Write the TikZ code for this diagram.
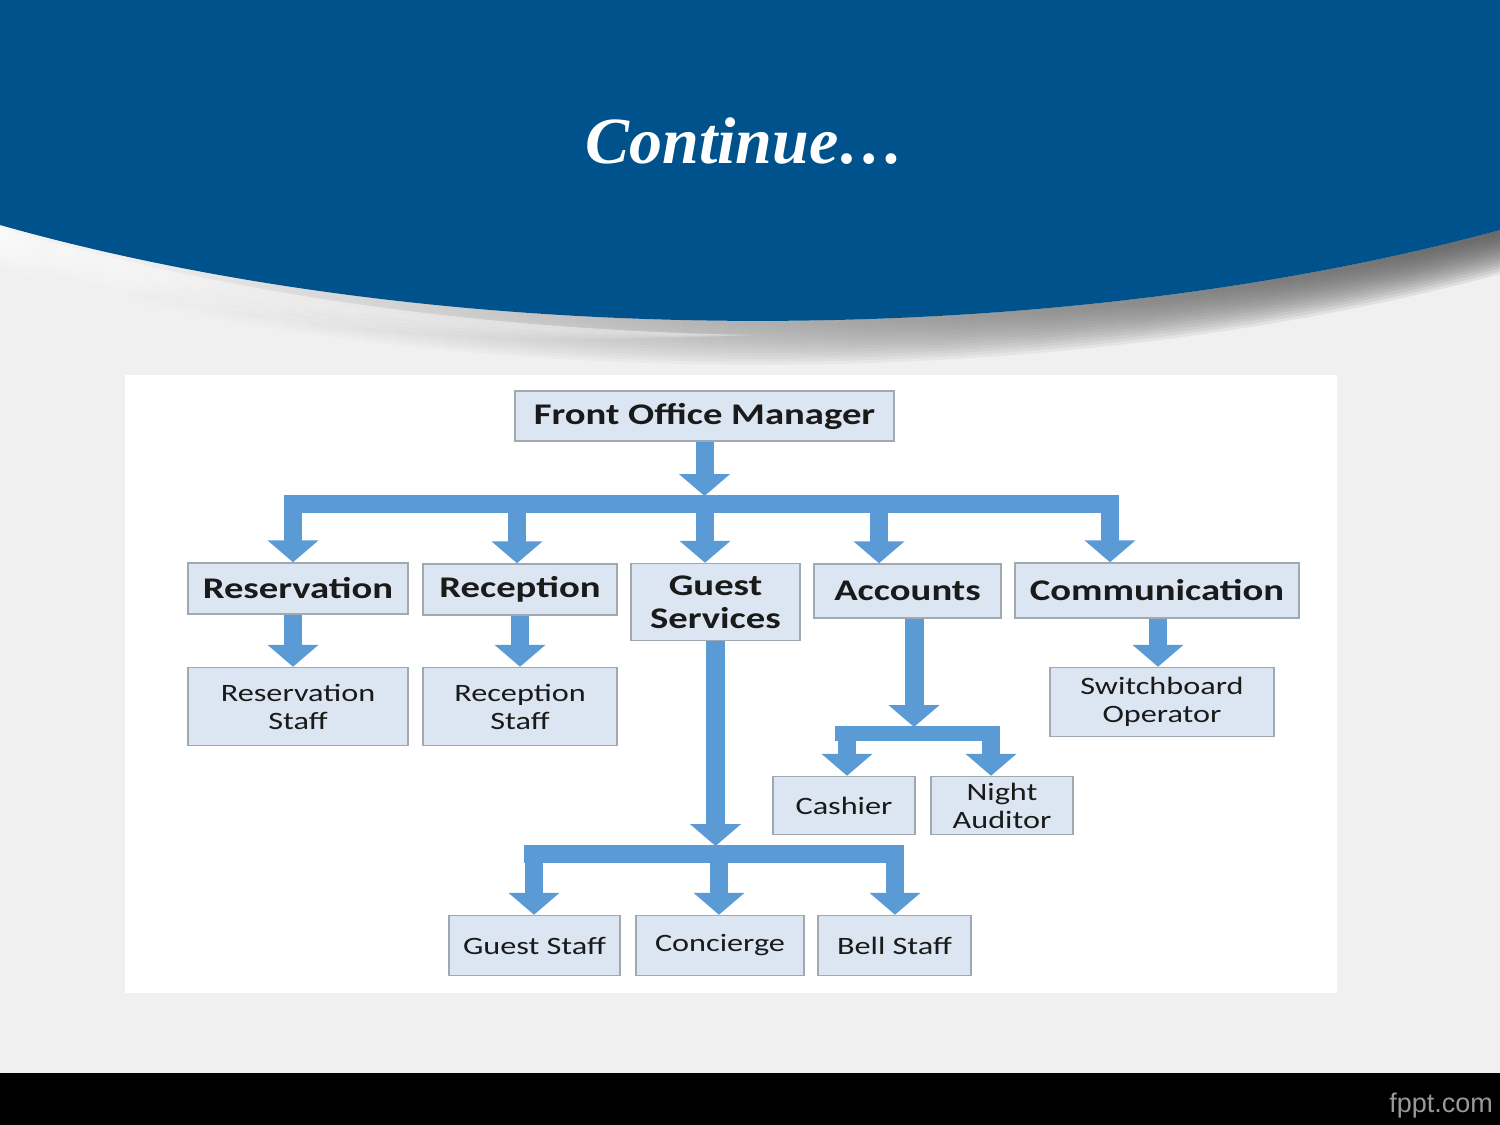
\documentclass[tikz,border=0pt]{standalone}
\usepackage{fontspec}
\setmainfont{Carlito}[FakeStretch=1.29]
\newfontfamily\titlefont{Liberation Serif}
\newfontfamily\wmfont{Liberation Sans}
\usetikzlibrary{arrows.meta}
\definecolor{band}{RGB}{0,82,140}
\definecolor{arrowblue}{RGB}{91,155,213}
\definecolor{boxfill}{RGB}{220,230,242}
\definecolor{boxline}{RGB}{160,168,178}
\definecolor{txt}{RGB}{26,26,26}
\definecolor{bgedge}{RGB}{208,208,208}
\definecolor{bgmid}{RGB}{240,240,240}
\pgfdeclarehorizontalshading{bgsh}{100bp}{color(0bp)=(bgedge); color(5bp)=(bgmid); color(95bp)=(bgmid); color(100bp)=(bgedge)}
\tikzset{
 box/.style={draw=boxline, line width=1.5pt, fill=boxfill, inner sep=0pt, align=center, text=txt},
 boldbox/.style={box, font=\fontsize{30}{33}\selectfont\bfseries},
 plainbox/.style={box, font=\fontsize{25}{28}\selectfont},
 barrow/.style={draw=arrowblue, line width=18pt, -{Triangle[width=50pt,length=22pt]}},
 bar/.style={fill=arrowblue},
}
\begin{document}
\begin{tikzpicture}[x=1pt,y=-1pt]
\useasboundingbox (0,0) rectangle (1500,1125);
% background
\shade[shading=bgsh] (0,0) rectangle (1500,1125);
% shadow under the band
\foreach \d in {44,41,38,35,32,29,26,23,20,17,14,11,8,5}{
  \shade[left color=white, middle color=black!42, right color=black!72, opacity=0.1]
    (0,225) .. controls (450,352) and (1050,352) .. (1500,230)
    -- (1500,230+\d) .. controls (1050,352+\d) and (450,352+\d) .. (0,225+\d) -- cycle;
}
% highlight on the left
\foreach \d in {30,24,18,12}{
  \shade[left color=white, right color=white!0!bgmid, opacity=0.18]
    (0,228) .. controls (250,300) and (500,330) .. (750,335)
    -- (750,335) .. controls (500,330+0.6*\d) and (250,300+\d) .. (0,228+\d) -- cycle;
}
% blue band
\fill[band] (0,0) -- (1500,0) -- (1500,230) .. controls (1050,352) and (450,352) .. (0,225) -- cycle;
\node[text=white, font=\titlefont\fontsize{66}{66}\selectfont\bfseries\itshape, anchor=base] (title) at (745,163) {Continue…};
% bottom bar
\fill[black] (0,1073) rectangle (1500,1125);
\node[anchor=base east, text=black!40, font=\wmfont\fontsize{27}{27}\selectfont, inner sep=0pt] (wm) at (1493,1112) {fppt.com};
% white panel
\fill[white] (125,375) rectangle (1337,993);

% boxes
\node[boldbox, minimum width=379pt, minimum height=50pt] (fom) at (704.5,416) {Front Office Manager};
\node[boldbox, minimum width=220pt, minimum height=51pt] (res) at (298,588.5) {Reservation};
\node[boldbox, minimum width=194pt, minimum height=51pt] (rec) at (520,589.5) {Reception};
\node[boldbox, minimum width=169pt, minimum height=77pt] (gs) at (715.5,602) {Guest\\Services};
\node[boldbox, minimum width=187pt, minimum height=54pt] (acc) at (907.5,591) {Accounts};
\node[boldbox, minimum width=284pt, minimum height=55pt] (com) at (1157,590.5) {Communication};
\node[plainbox, minimum width=220pt, minimum height=78pt] (ress) at (298,706.5) {Reservation\\Staff};
\node[plainbox, minimum width=194pt, minimum height=78pt] (recs) at (520,706.5) {Reception\\Staff};
\node[plainbox, minimum width=224pt, minimum height=69pt] (sw) at (1162,702) {Switchboard\\Operator};
\node[plainbox, minimum width=142pt, minimum height=58pt] (cash) at (844,805.5) {Cashier};
\node[plainbox, minimum width=142pt, minimum height=58pt] (na) at (1002,805.5) {Night\\Auditor};
\node[plainbox, minimum width=171pt, minimum height=60pt] (gst) at (534.5,945.5) {Guest Staff};
\node[plainbox, minimum width=168pt, minimum height=60pt] (con) at (720,945.5) {Concierge};
\node[plainbox, minimum width=153pt, minimum height=60pt] (bell) at (894.5,945.5) {Bell Staff};

% level 1 connector
\coordinate (b1) at (705,496);
\fill[bar] (284,495) rectangle (1119,513);
\draw[barrow] (fom.south) -- (fom.south |- b1);
\coordinate (d1) at (293,511);
\coordinate (d2) at (517,511);
\coordinate (d3) at (705,511);
\coordinate (d4) at (879,511);
\coordinate (d5) at (1110,511);
\draw[barrow] (d1) -- (d1 |- res.north);
\draw[barrow] (d2) -- (d2 |- rec.north);
\draw[barrow] (d3) -- (d3 |- gs.north);
\draw[barrow] (d4) -- (d4 |- acc.north);
\draw[barrow] (d5) -- (d5 |- com.north);

% simple drops
\coordinate (r1) at (293,0);
\coordinate (r2) at (520,0);
\coordinate (r3) at (1158,0);
\draw[barrow] (r1 |- res.south) -- (r1 |- ress.north);
\draw[barrow] (r2 |- rec.south) -- (r2 |- recs.north);
\draw[barrow] (r3 |- com.south) -- (r3 |- sw.north);

% guest services branch
\coordinate (b2) at (715,846);
\draw[barrow, line width=19pt] (gs.south) -- (gs.south |- b2);
\fill[bar] (524,845) rectangle (904,863);
\coordinate (g1) at (534,861);
\coordinate (g2) at (719,861);
\coordinate (g3) at (895,861);
\draw[barrow] (g1) -- (g1 |- gst.north);
\draw[barrow] (g2) -- (g2 |- con.north);
\draw[barrow] (g3) -- (g3 |- bell.north);

% accounts branch
\coordinate (b3) at (914,727);
\draw[barrow, line width=19pt] (b3 |- acc.south) -- (b3);
\fill[bar] (835,726) rectangle (1000,741);
\coordinate (a1) at (847,739);
\coordinate (a2) at (991,739);
\draw[barrow] (a1) -- (a1 |- cash.north);
\draw[barrow] (a2) -- (a2 |- na.north);
\end{tikzpicture}
\end{document}
